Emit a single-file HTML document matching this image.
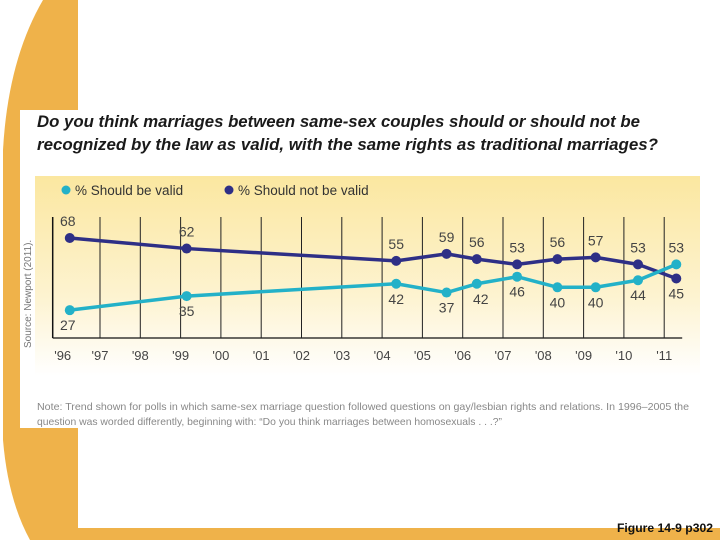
<!DOCTYPE html>
<html><head><meta charset="utf-8"><style>
body{margin:0;width:720px;height:540px;overflow:hidden;background:#fff;font-family:"Liberation Sans",sans-serif}
</style></head><body>
<svg width="720" height="540" viewBox="0 0 720 540" xmlns="http://www.w3.org/2000/svg">
<defs>
<linearGradient id="pg" x1="0" y1="0" x2="0" y2="1">
<stop offset="0" stop-color="#fbe7a0"/><stop offset="0.6" stop-color="#fdf3d0"/><stop offset="1" stop-color="#ffffff"/>
</linearGradient>
</defs>
<path d="M43 0 L78 0 L78 540 L30 540 Q8 500 3 440 L3 150 Q8 60 43 0 Z" fill="#efb24a"/>
<rect x="30" y="528" width="690" height="12" fill="#efb24a"/>
<rect x="20" y="110" width="680" height="318" fill="#fff"/>
<text x="37" y="127" font-size="17" font-weight="bold" font-style="italic" fill="#1a1a1a" textLength="603" lengthAdjust="spacingAndGlyphs">Do you think marriages between same-sex couples should or should not be</text>
<text x="37" y="150" font-size="17" font-weight="bold" font-style="italic" fill="#1a1a1a" textLength="621" lengthAdjust="spacingAndGlyphs">recognized by the law as valid, with the same rights as traditional marriages?</text>
<rect x="35" y="176" width="665" height="200" fill="url(#pg)"/>
<g>
<circle cx="66" cy="190" r="4.5" fill="#23b1c8"/>
<text x="75" y="195" font-size="13.5" fill="#333">% Should be valid</text>
<circle cx="229" cy="190" r="4.5" fill="#2e2f86"/>
<text x="238" y="195" font-size="13.5" fill="#333">% Should not be valid</text>
</g>
<text transform="translate(31,348) rotate(-90)" font-size="10" fill="#777">Source: Newport (2011).</text>
<g id="chart"></g>
<text x="37" y="410" font-size="10.5" fill="#888" textLength="652" lengthAdjust="spacingAndGlyphs">Note: Trend shown for polls in which same-sex marriage question followed questions on gay/lesbian rights and relations. In 1996–2005 the</text>
<text x="37" y="425" font-size="10.5" fill="#888" textLength="465" lengthAdjust="spacingAndGlyphs">question was worded differently, beginning with: “Do you think marriages between homosexuals . . .?”</text>
<text x="617" y="532" font-size="12" font-weight="bold" fill="#111" textLength="96" lengthAdjust="spacingAndGlyphs">Figure 14-9 p302</text>
</svg>
<script>
const tickYears = [1996,1997,1998,1999,2000,2001,2002,2003,2004,2005,2006,2007,2008,2009,2010,2011];
const tickLabels = ["'96","'97","'98","'99","'00","'01","'02","'03","'04","'05","'06","'07","'08","'09","'10","'11"];
const pollDates = [1996.25,1999.15,2004.35,2005.6,2006.35,2007.35,2008.35,2009.3,2010.35,2011.3];
const validVals = [27,35,42,37,42,46,40,40,44,53];
const notValidVals = [68,62,55,59,56,53,56,57,53,45];
const validLabelPos = ["below","below","below","below","right","below","below","below","below","above"];
const notValidLabelPos = ["above","above","above","above","above","above","above","above","above","below"];

const NS = "http://www.w3.org/2000/svg";
const g = document.getElementById('chart');
const xS = yr => 59.7 + (yr - 1996) * 40.3;
const yS = v => 238 + (68 - v) * 1.76;
function el(tag, attrs){const e=document.createElementNS(NS,tag);for(const k in attrs)e.setAttribute(k,attrs[k]);g.appendChild(e);return e;}

const axisX = xS(1996) - 7;
const axis = el('line',{x1:axisX,y1:217,x2:axisX,y2:338,stroke:'#111','stroke-width':1.5});


const base = el('line',{x1:axisX,y1:338,x2:xS(2011)+18,y2:338,stroke:'#111','stroke-width':1.2});


tickYears.forEach((yr,i)=>{
  if(i>0){
    const l = el('line',{x1:xS(yr),y1:217,x2:xS(yr),y2:338,stroke:'#222','stroke-width':1});
    
    
  }
  const t = el('text',{x:xS(yr)+(i==0?3:0),y:360,'font-size':13,'text-anchor':'middle',fill:'#444'});
  t.textContent = tickLabels[i];
  
  
});

function series(vals,pos,color,name){
  const pts = pollDates.map((d,i)=>xS(d)+','+yS(vals[i])).join(' ');
  const pl = el('polyline',{points:pts,fill:'none',stroke:color,'stroke-width':3.5,'stroke-linejoin':'round'});
  
  
  pollDates.forEach((d,i)=>{
    const c = el('circle',{cx:xS(d),cy:yS(vals[i]),r:5,fill:color});
    
    
    let tx=xS(d), ty=yS(vals[i]);
    if(pos[i]=='above') ty-=12; else if(pos[i]=='below') ty+=20; else {tx+=4; ty+=20;}
    if(i==0){tx-=2;}
    const t = el('text',{x:tx,y:ty,'font-size':14,'text-anchor':'middle',fill:'#444'});
    t.textContent = vals[i];
    
    
  });
}
series(notValidVals,notValidLabelPos,'#2e2f86','should-not-be-valid');
series(validVals,validLabelPos,'#23b1c8','should-be-valid');
</script>
</body></html>
